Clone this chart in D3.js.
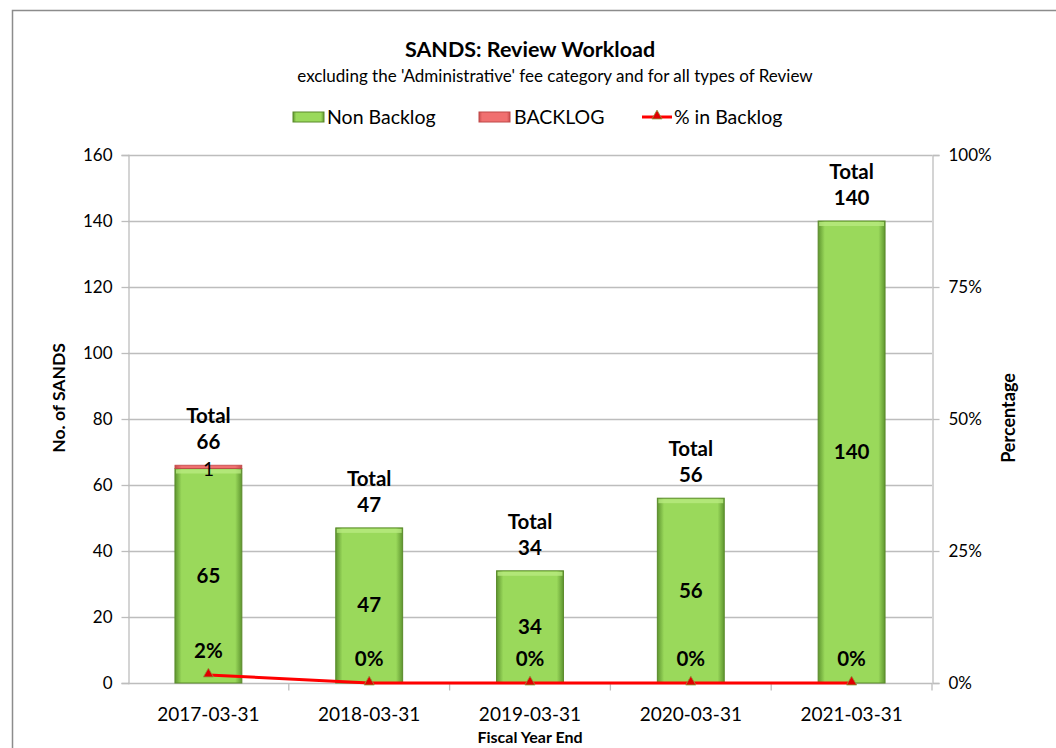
<!DOCTYPE html>
<html><head><meta charset="utf-8">
<script src="https://cdn.jsdelivr.net/npm/d3@7/dist/d3.min.js"></script>
<style>body{margin:0;background:#fff}svg{display:block;font-family:Lato,"Open Sans",sans-serif}</style>
</head><body><svg id="c" width="1056" height="748"></svg>
<script>
const categories = ["2017-03-31","2018-03-31","2019-03-31","2020-03-31","2021-03-31"];
const nonBacklog = [65,47,34,56,140];
const backlog = [1,0,0,0,0];
const pctBacklog = [1/66*100,0,0,0,0];
const pctLabels = ["2%","0%","0%","0%","0%"];
const leftTicks = [0,20,40,60,80,100,120,140,160];
const rightTicks = [0,25,50,75,100];

const svg = d3.select("#c");
const W=1056,H=748;
const m={l:128,r:932,t:155,b:683};

// outer border
svg.append("path").attr("d",`M12.5,${H} V10.5 H${W}`).attr("fill","none").attr("stroke","#8c8c8c").attr("stroke-width",1.5);

const defs=svg.append("defs");
const gg=defs.append("linearGradient").attr("id","gG").attr("x1",0).attr("x2",1).attr("y1",0).attr("y2",0);
[[0,"#5f9630"],[0.1,"#9ad95b"],[0.9,"#9ad95b"],[1,"#5f9630"]].forEach(s=>gg.append("stop").attr("offset",s[0]).attr("stop-color",s[1]));
const gr=defs.append("linearGradient").attr("id","gR").attr("x1",0).attr("x2",1).attr("y1",0).attr("y2",0);
[[0,"#c94c4c"],[0.1,"#f07070"],[0.9,"#f07070"],[1,"#c94c4c"]].forEach(s=>gr.append("stop").attr("offset",s[0]).attr("stop-color",s[1]));

const x=d3.scaleBand().domain(categories).range([m.l,m.r]).paddingInner(0.584).paddingOuter(0.292);
const xb=d3.scaleBand().domain(categories).range([m.l,m.r]);
const y=d3.scaleLinear().domain([0,160]).range([m.b,m.t]);
const y2=d3.scaleLinear().domain([0,100]).range([m.b,m.t]);

// gridlines
svg.append("g").selectAll("line").data(leftTicks.slice(1)).join("line")
 .attr("x1",m.l).attr("x2",m.r).attr("y1",d=>Math.round(y(d))+0.5).attr("y2",d=>Math.round(y(d))+0.5)
 .attr("stroke","#bdbdbd").attr("stroke-width",1.3);

// left axis
const la=svg.append("g").attr("transform",`translate(${m.l+0.5},0)`)
 .call(d3.axisLeft(y).tickValues(leftTicks).tickSize(7).tickPadding(9));
la.select(".domain").attr("stroke","#bdbdbd").attr("stroke-width",1.3);
la.selectAll(".tick line").attr("stroke","#bdbdbd").attr("stroke-width",1.3);
la.selectAll("text").attr("font-size",17).attr("fill","#000").attr("font-family","Lato");

// right axis
const ra=svg.append("g").attr("transform",`translate(${m.r+0.5},0)`)
 .call(d3.axisRight(y2).tickValues(rightTicks).tickFormat(d=>d+"%").tickSize(7).tickPadding(9));
ra.select(".domain").attr("stroke","#bdbdbd").attr("stroke-width",1.3);
ra.selectAll(".tick line").attr("stroke","#bdbdbd").attr("stroke-width",1.3);
ra.selectAll("text").attr("font-size",17).attr("fill","#000").attr("font-family","Lato");

// x axis
const xa=svg.append("g").attr("transform",`translate(0,${m.b+0.5})`);
xa.append("line").attr("x1",m.l).attr("x2",m.r).attr("stroke","#bdbdbd").attr("stroke-width",1.3);
xa.selectAll("line.tk").data(categories.slice(1).concat(["__end"])).join("line").attr("class","tk")
 .attr("x1",(d,i)=>m.l+xb.step()*(i+1)).attr("x2",(d,i)=>m.l+xb.step()*(i+1)).attr("y1",0).attr("y2",7)
 .attr("stroke","#bdbdbd").attr("stroke-width",1.3);
xa.selectAll("text").data(categories).join("text")
 .attr("x",d=>xb(d)+xb.bandwidth()/2).attr("y",37).attr("text-anchor","middle")
 .attr("font-size",19).attr("fill","#000").text(d=>d);

// bars
const bars=svg.append("g");
categories.forEach((c,i)=>{
  bars.append("rect").attr("x",x(c)).attr("width",x.bandwidth())
   .attr("y",y(nonBacklog[i])).attr("height",y(0)-y(nonBacklog[i]))
   .attr("fill","url(#gG)").attr("stroke","#5a8a2a").attr("stroke-width",1);
  bars.append("rect").attr("x",x(c)+1).attr("width",x.bandwidth()-2)
   .attr("y",y(nonBacklog[i])+1).attr("height",4).attr("fill","#b8ea80").attr("opacity",0.8);
  if(backlog[i]>0){
    bars.append("rect").attr("x",x(c)).attr("width",x.bandwidth())
     .attr("y",y(nonBacklog[i]+backlog[i])).attr("height",y(nonBacklog[i])-y(nonBacklog[i]+backlog[i]))
     .attr("fill","url(#gR)").attr("stroke","#c04848").attr("stroke-width",0.8);
  }
});

// labels
const lab=svg.append("g").attr("font-weight","bold").attr("text-anchor","middle").attr("fill","#000");
categories.forEach((c,i)=>{
  const cx=x(c)+x.bandwidth()/2;
  const tot=nonBacklog[i]+backlog[i];
  lab.append("text").attr("x",cx).attr("y",y(nonBacklog[i]/2)+7).attr("font-size",20.5).text(nonBacklog[i]);
  if(backlog[i]>0) lab.append("text").attr("x",cx).attr("y",y(nonBacklog[i]+backlog[i]/2)+9).attr("font-size",19).attr("font-weight","normal").text(backlog[i]);
  lab.append("text").attr("x",cx).attr("y",y(tot)-42).attr("font-size",20.5).text("Total");
  lab.append("text").attr("x",cx).attr("y",y(tot)-16).attr("font-size",20.5).text(tot);
  lab.append("text").attr("x",cx).attr("y",y2(pctBacklog[i])-17).attr("font-size",20.5).text(pctLabels[i]);
});

// line
const line=d3.line().x((d,i)=>x(categories[i])+x.bandwidth()/2).y(d=>y2(d));
svg.append("path").datum(pctBacklog).attr("d",line).attr("fill","none").attr("stroke","#ff0000").attr("stroke-width",3);
const tri=d3.symbol().type(d3.symbolTriangle).size(45);
svg.append("g").selectAll("path").data(pctBacklog).join("path")
 .attr("transform",(d,i)=>`translate(${x(categories[i])+x.bandwidth()/2},${y2(d)-1})`)
 .attr("d",tri).attr("fill","#e00000").attr("stroke","#8aa040").attr("stroke-width",0.8);

// titles
svg.append("text").attr("x",530).attr("y",57).attr("text-anchor","middle").attr("font-size",21.5).attr("font-weight","bold").text("SANDS: Review Workload");
svg.append("text").attr("x",555).attr("y",82).attr("text-anchor","middle").attr("font-size",17).text("excluding the 'Administrative' fee category and for all types of Review");
svg.append("text").attr("transform","translate(65,398) rotate(-90)").attr("text-anchor","middle").attr("font-size",17.5).attr("font-weight","bold").text("No. of SANDS");
svg.append("text").attr("transform","translate(1015,418) rotate(-90)").attr("text-anchor","middle").attr("font-size",18).attr("font-weight","bold").text("Percentage");
svg.append("text").attr("x",530).attr("y",743).attr("text-anchor","middle").attr("font-size",16).attr("font-weight","bold").text("Fiscal Year End");

// legend
const lg=svg.append("g").attr("font-size",19.5);
lg.append("rect").attr("x",293).attr("y",112).attr("width",31).attr("height",10).attr("fill","url(#gG)").attr("stroke","#5a8a2a");
lg.append("text").attr("x",327).attr("y",124).text("Non Backlog");
lg.append("rect").attr("x",479).attr("y",112).attr("width",31).attr("height",10).attr("fill","url(#gR)").attr("stroke","#c04848");
lg.append("text").attr("x",514).attr("y",124).text("BACKLOG");
lg.append("line").attr("x1",642).attr("x2",672).attr("y1",117).attr("y2",117).attr("stroke","#ff0000").attr("stroke-width",3);
lg.append("path").attr("transform","translate(657,116)").attr("d",tri).attr("fill","#e00000").attr("stroke","#8aa040").attr("stroke-width",0.8);
lg.append("text").attr("x",674).attr("y",124).text("% in Backlog");
</script></body></html>
